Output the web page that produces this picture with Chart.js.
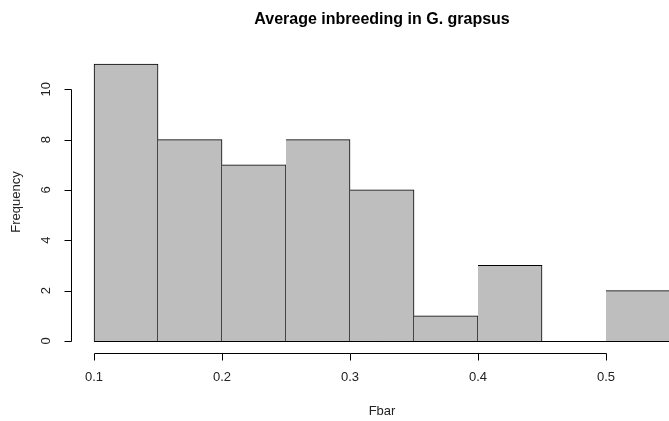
<!DOCTYPE html>
<html>
<head>
<meta charset="utf-8">
<script src="https://cdn.jsdelivr.net/npm/chart.js@4.4.1/dist/chart.umd.min.js"></script>
<style>
  html, body { margin: 0; padding: 0; background: #fff; overflow: hidden; }
</style>
</head>
<body>
<canvas id="hist" width="669" height="421"></canvas>
<script>
// histogram bins (mid points) and counts
const binMids = [0.125, 0.175, 0.225, 0.275, 0.325, 0.375, 0.425, 0.475, 0.525];
const counts = [11, 8, 7, 8, 6, 1, 3, 0, 2];
const binStart = 0.1;
const binEnd = 0.55;
const xTicks = [0.1, 0.2, 0.3, 0.4, 0.5];
const yTicks = [0, 2, 4, 6, 8, 10];

const FONT = "Liberation Sans, Arial, sans-serif";

// draws R style axes, titles
const baseAxes = {
  id: "baseAxes",
  afterDraw(chart) {
    const ctx = chart.ctx;
    const xs = chart.scales.x;
    const ys = chart.scales.y;
    const area = chart.chartArea;
    ctx.save();
    ctx.strokeStyle = "#000";
    ctx.fillStyle = "#000";
    ctx.lineWidth = 1;

    // baseline of the bins (zero-height bins show as a line)
    const y0 = Math.round(ys.getPixelForValue(0)) + 0.5;
    ctx.beginPath();
    ctx.moveTo(xs.getPixelForValue(binStart), y0);
    ctx.lineTo(xs.getPixelForValue(binEnd), y0);
    ctx.stroke();

    // x axis
    const xAxisY = Math.round(area.bottom) + 1.5;
    ctx.beginPath();
    ctx.moveTo(Math.round(xs.getPixelForValue(xTicks[0])) + 0.5, xAxisY);
    ctx.lineTo(Math.round(xs.getPixelForValue(xTicks[xTicks.length - 1])) + 0.5, xAxisY);
    xTicks.forEach((t) => {
      const px = Math.round(xs.getPixelForValue(t)) + 0.5;
      ctx.moveTo(px, xAxisY);
      ctx.lineTo(px, xAxisY + 7);
    });
    ctx.stroke();
    ctx.font = "13px " + FONT;
    ctx.fillStyle = "#222";
    ctx.textAlign = "center";
    ctx.textBaseline = "middle";
    xTicks.forEach((t) => {
      ctx.fillText(t.toFixed(1), xs.getPixelForValue(t), xAxisY + 24);
    });

    // y axis
    const yAxisX = Math.round(area.left) + 0.5;
    ctx.beginPath();
    ctx.moveTo(yAxisX, Math.round(ys.getPixelForValue(yTicks[0])) + 0.5);
    ctx.lineTo(yAxisX, Math.round(ys.getPixelForValue(yTicks[yTicks.length - 1])) + 0.5);
    yTicks.forEach((t) => {
      const py = Math.round(ys.getPixelForValue(t)) + 0.5;
      ctx.moveTo(yAxisX, py);
      ctx.lineTo(yAxisX - 7, py);
    });
    ctx.stroke();
    yTicks.forEach((t) => {
      ctx.save();
      ctx.translate(yAxisX - 25, ys.getPixelForValue(t));
      ctx.rotate(-Math.PI / 2);
      ctx.fillText(String(t), 0, 0);
      ctx.restore();
    });

    // titles
    const midX = (xs.getPixelForValue(xs.min) + xs.getPixelForValue(0.568)) / 2;
    ctx.fillStyle = "#000";
    ctx.font = "bold 16px " + FONT;
    ctx.fillText("Average inbreeding in G. grapsus", midX, 20);
    ctx.font = "13px " + FONT;
    ctx.fillStyle = "#222";
    ctx.fillText("Fbar", midX, 411);
    ctx.save();
    ctx.translate(16, 202);
    ctx.rotate(-Math.PI / 2);
    ctx.fillText("Frequency", 0, 0);
    ctx.restore();
    ctx.restore();
  },
};

new Chart(document.getElementById("hist"), {
  type: "bar",
  data: {
    datasets: [
      {
        data: binMids.map((m, i) => ({ x: m, y: counts[i] })),
        backgroundColor: "#BEBEBE",
        borderColor: "#000",
        borderSkipped: false,
        borderWidth: (c) => ({ top: 1, right: 1, bottom: 0, left: c.dataIndex === 0 ? 1 : 0 }),
        barPercentage: 1,
        categoryPercentage: 1,
      },
    ],
  },
  options: {
    responsive: false,
    animation: false,
    layout: { padding: { left: 71, right: 0, top: 53, bottom: 69 } },
    plugins: { legend: { display: false }, tooltip: { enabled: false } },
    scales: {
      x: { type: "linear", min: 0.082, max: 0.5492, offset: false, display: false },
      y: { type: "linear", min: -0.44, max: 11.44, display: false },
    },
  },
  plugins: [baseAxes],
});
</script>
</body>
</html>
